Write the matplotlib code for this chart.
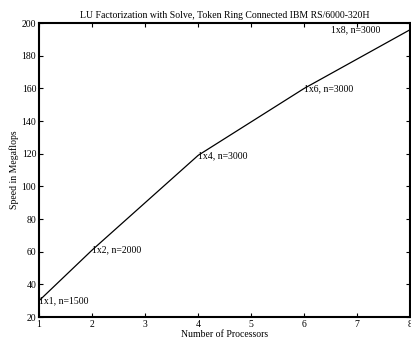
import matplotlib
matplotlib.use("Agg")
import matplotlib.pyplot as plt

plt.rcParams['font.family'] = ['Liberation Serif', 'DejaVu Serif']

# data
processors = [1, 2, 4, 6, 8]
speed = [30, 61, 119, 160, 196]
labels = ["1x1, n=1500", "1x2, n=2000", "1x4, n=3000", "1x6, n=3000", "1x8, n=3000"]
label_x = [1, 2, 4, 6, 6.5]
label_y = [30, 61, 119, 160, 196]

fig = plt.figure(figsize=(4.11, 3.45), dpi=100)
ax = fig.add_axes([0.095, 0.081, 0.903, 0.852])

ax.plot(processors, speed, color="black", linewidth=0.9)

for x, y, t in zip(label_x, label_y, labels):
    ax.text(x, y, t, fontsize=7, ha="left", va="center")

ax.set_xlim(1, 8)
ax.set_ylim(20, 200)
ax.set_xticks(range(1, 9))
ax.set_yticks(range(20, 201, 20))
ax.tick_params(direction="in", top=True, right=True, labelsize=7, length=3, pad=2)
for s in ax.spines.values():
    s.set_linewidth(1.5)

ax.set_title("LU Factorization with Solve, Token Ring Connected IBM RS/6000-320H", fontsize=7, pad=4)
ax.set_xlabel("Number of Processors", fontsize=7, labelpad=1)
ax.set_ylabel("Speed in Megaflops", fontsize=7, labelpad=2)

fig.savefig("out.png", dpi=100)
